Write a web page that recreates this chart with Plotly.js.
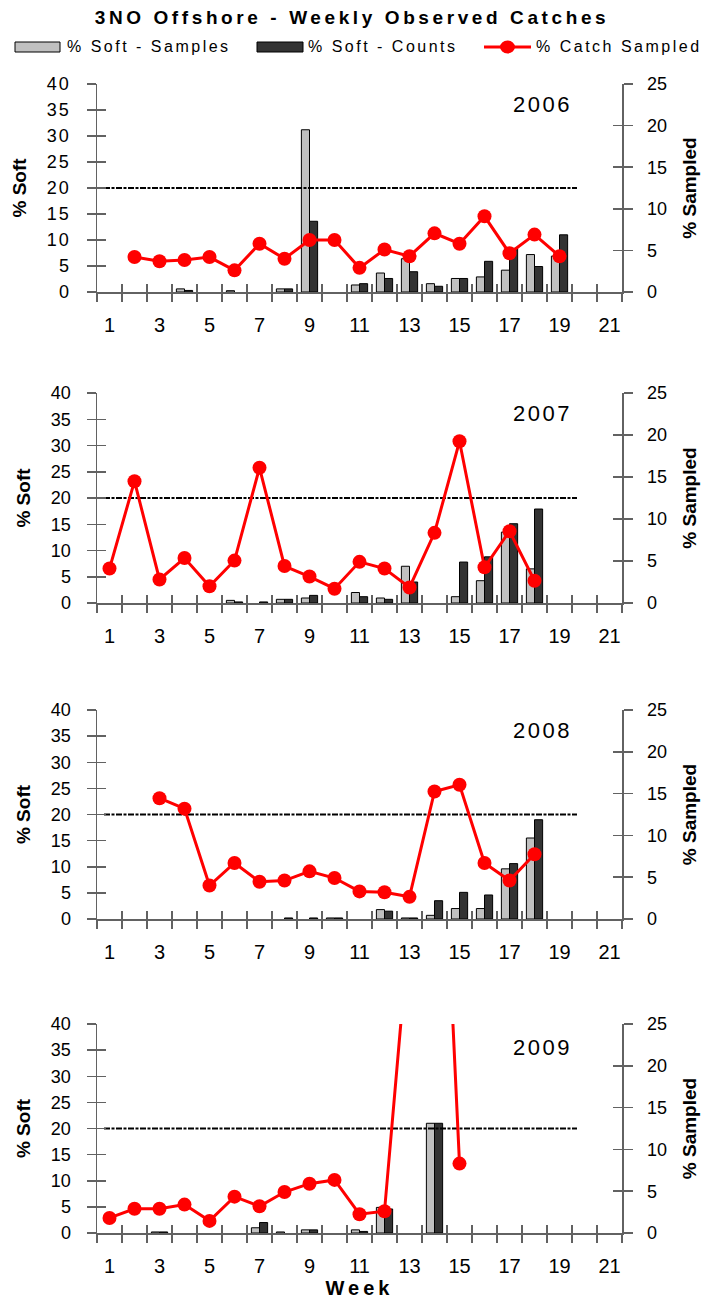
<!DOCTYPE html>
<html><head><meta charset="utf-8">
<script src="https://cdn.plot.ly/plotly-3.0.1.min.js"></script>
<style>
html,body{margin:0;padding:0;background:#fff;}
#chart{width:704px;height:1299px;}
.ytick text{letter-spacing:2px;}
.gtitle{letter-spacing:3.6px;}
.annotation-text{letter-spacing:2.5px;}
text.x4title{letter-spacing:4px;}
</style></head><body><div id="chart"></div>
<script>
const weeks = [1,2,3,4,5,6,7,8,9,10,11,12,13,14,15,16,17,18,19,20,21];
const weekTickLabels = [1,3,5,7,9,11,13,15,17,19,21];
const softTicks = [0,5,10,15,20,25,30,35,40];
const sampledTicks = [0,5,10,15,20,25];
const years = ['2006','2007','2008','2009'];
const seriesNames = ['% Soft - Samples', '% Soft - Counts', '% Catch Sampled'];
const thresholdLevel = 20;
const thresholdWeeks = [0.78, 19.7];

const samples2006 = [null,null,null,0.6,null,0.25,null,0.6,31.2,null,1.35,3.65,6.4,1.6,2.6,2.9,4.2,7.2,6.9,null,null];
const counts2006  = [null,null,null,0.3,null,null,null,0.6,13.6,null,1.6,2.6,3.9,1.1,2.6,5.9,8.4,4.9,11.0,null,null];
const sampled2006 = [null,4.2,3.7,3.85,4.2,2.6,5.8,4.0,6.25,6.25,2.9,5.1,4.3,7.05,5.8,9.1,4.65,6.9,4.3,null,null];

const samples2007 = [null,null,null,null,null,0.5,null,0.7,0.95,null,2.0,0.95,7.0,null,1.2,4.25,13.5,6.5,null,null,null];
const counts2007  = [null,null,null,null,null,0.2,0.2,0.7,1.45,null,1.2,0.7,4.0,null,7.8,8.8,15.1,17.9,null,null,null];
const sampled2007 = [4.1,14.5,2.8,5.35,2.0,5.05,16.1,4.4,3.15,1.7,4.9,4.1,1.85,8.35,19.25,4.25,8.55,2.65,null,null,null];

const samples2008 = [null,null,null,null,null,null,null,null,null,0.2,null,1.8,0.2,0.7,2.0,2.0,9.6,15.5,null,null,null];
const counts2008  = [null,null,null,null,null,null,null,0.2,0.2,0.2,null,1.5,0.2,3.5,5.1,4.6,10.6,19.0,null,null,null];
const sampled2008 = [null,null,14.45,13.2,4.0,6.7,4.45,4.6,5.7,4.9,3.3,3.2,2.65,15.25,16.05,6.7,4.6,7.75,null,null,null];

const samples2009 = [null,null,0.2,null,null,null,1.0,0.2,0.6,null,0.6,4.9,null,21.0,null,null,null,null,null,null,null];
const counts2009  = [null,null,0.2,null,null,null,2.0,null,0.6,null,0.3,4.6,null,21.0,null,null,null,null,null,null,null];
const sampled2009 = [1.8,2.9,2.9,3.4,1.45,4.35,3.2,4.9,5.9,6.35,2.25,2.6,37,72,8.3,null,null,null,null,null,null];

const samplesByYear = [samples2006, samples2007, samples2008, samples2009];
const countsByYear = [counts2006, counts2007, counts2008, counts2009];
const sampledByYear = [sampled2006, sampled2007, sampled2008, sampled2009];

const W = 704, H = 1299;
const AX = '#626262';
const FONT = 'Liberation Sans, Arial, sans-serif';
const GRAY = '#c0c0c0', DARK = '#333333', RED = '#ff0000';
const xDomain = [97/W, 622/W];
const panelPx = [[84,292],[393,603],[710,919],[1024,1233]];
const yearLabelPx = [105,413,730,1047];
const boundaries = weeks.map(w => w - 0.5).concat([weeks[weeks.length-1] + 0.5]);
const px = v => v / W;
const py = v => 1 - v / H;

const traces = [];
const layout = {
  width: W, height: H,
  margin: {l:0, r:0, t:0, b:0, pad:0},
  paper_bgcolor: '#fff', plot_bgcolor: 'rgba(0,0,0,0)',
  font: {family: FONT, color: '#000', size: 16},
  barmode: 'group', bargap: 0.35, bargroupgap: 0,
  showlegend: false,
  title: {text: '3NO Offshore - Weekly Observed Catches', x: 0.5, xanchor: 'center',
          y: 1 - 17/H, yanchor: 'middle', yref: 'container',
          font: {family: FONT, size: 19, weight: 700, color: '#000'}},
  annotations: [],
  shapes: []
};

// legend (keys + labels in the header row)
const legY = 47;
layout.shapes.push({type: 'rect', xref: 'paper', yref: 'paper', x0: px(15), x1: px(60), y0: py(52), y1: py(42),
  fillcolor: GRAY, line: {color: '#000', width: 1}});
layout.shapes.push({type: 'rect', xref: 'paper', yref: 'paper', x0: px(257), x1: px(303), y0: py(52), y1: py(42),
  fillcolor: DARK, line: {color: '#000', width: 1}});
layout.shapes.push({type: 'line', xref: 'paper', yref: 'paper', x0: px(484), x1: px(531), y0: py(legY), y1: py(legY),
  line: {color: RED, width: 3}});
layout.shapes.push({type: 'circle', xref: 'paper', yref: 'paper', x0: px(500), x1: px(515), y0: py(53.5), y1: py(40.5),
  fillcolor: RED, line: {color: RED, width: 0}});
[[65, 0], [306, 1], [534, 2]].forEach(([x, k]) => {
  layout.annotations.push({text: seriesNames[k], xref: 'paper', yref: 'paper', x: px(x), y: py(legY),
    xanchor: 'left', yanchor: 'middle', showarrow: false, font: {family: FONT, size: 16, color: '#000'}});
});

for (let i = 0; i < 4; i++) {
  const p = i + 1;
  const xr = p === 1 ? 'x' : 'x' + p;
  const yl = p === 1 ? 'y' : 'y' + p;
  const yrIdx = p + 4, xoIdx = p + 4, yloIdx = p + 8, yroIdx = p + 12;
  const dom = [1 - panelPx[i][1]/H, 1 - panelPx[i][0]/H];
  const xKey = p === 1 ? 'xaxis' : 'xaxis' + p;
  const yKey = p === 1 ? 'yaxis' : 'yaxis' + p;

  layout[xKey] = {
    domain: xDomain, range: [0.5, 21.5], autorange: false, anchor: yl,
    tickmode: 'array', tickvals: weekTickLabels, ticktext: weekTickLabels.map(String),
    ticks: '', showline: true, linecolor: AX, linewidth: 1.5,
    showgrid: false, zeroline: false,
    tickfont: {family: FONT, size: 20, color: '#000'}, ticklabelstandoff: 14,
    minor: {tickmode: 'array', tickvals: boundaries, ticks: 'outside', ticklen: 8,
            tickcolor: AX, tickwidth: 1.5, showgrid: false}
  };
  if (p === 4) {
    layout[xKey].title = {text: 'Week', font: {family: FONT, size: 20, weight: 700, color: '#000'}, standoff: 4};
  }
  layout['xaxis' + xoIdx] = {
    overlaying: xr, anchor: yl, range: [0.5, 21.5], autorange: false,
    tickmode: 'array', tickvals: boundaries, ticks: 'inside', ticklen: 8,
    tickcolor: AX, tickwidth: 1.5, showticklabels: false, showline: false,
    showgrid: false, zeroline: false
  };
  layout[yKey] = {
    domain: dom, range: [0, 40], autorange: false, anchor: xr,
    tickmode: 'array', tickvals: softTicks, ticks: 'outside', ticklen: 9,
    tickcolor: AX, tickwidth: 1.5, showline: true, linecolor: AX, linewidth: 1.5,
    showgrid: false, zeroline: false,
    tickfont: {family: FONT, size: 18, color: '#000'}, ticklabelstandoff: 12,
    title: {text: '% Soft', font: {family: FONT, size: 19, weight: 700, color: '#000'}, standoff: 15}
  };
  layout['yaxis' + yloIdx] = {
    overlaying: yl, anchor: xr, side: 'left', range: [0, 40], autorange: false,
    tickmode: 'array', tickvals: softTicks, ticks: 'inside', ticklen: 9,
    tickcolor: AX, tickwidth: 1.5, showticklabels: false, showline: false,
    showgrid: false, zeroline: false
  };
  layout['yaxis' + yrIdx] = {
    overlaying: yl, anchor: xr, side: 'right', range: [0, 25], autorange: false,
    tickmode: 'array', tickvals: sampledTicks, ticks: 'outside', ticklen: 9,
    tickcolor: AX, tickwidth: 1.5, showline: true, linecolor: AX, linewidth: 1.5,
    showgrid: false, zeroline: false,
    tickfont: {family: FONT, size: 18, color: '#000'}, ticklabelstandoff: 11,
    title: {text: '% Sampled', font: {family: FONT, size: 19, weight: 700, color: '#000'}, standoff: 16}
  };
  layout['yaxis' + yroIdx] = {
    overlaying: yl, anchor: xr, side: 'right', range: [0, 25], autorange: false,
    tickmode: 'array', tickvals: sampledTicks, ticks: 'inside', ticklen: 9,
    tickcolor: AX, tickwidth: 1.5, showticklabels: false, showline: false,
    showgrid: false, zeroline: false
  };

  traces.push({type: 'bar', name: seriesNames[0], x: weeks, y: samplesByYear[i],
    xaxis: xr, yaxis: yl, offsetgroup: 'a',
    marker: {color: GRAY, line: {color: '#000', width: 1}}, hoverinfo: 'skip'});
  traces.push({type: 'bar', name: seriesNames[1], x: weeks, y: countsByYear[i],
    xaxis: xr, yaxis: yl, offsetgroup: 'b',
    marker: {color: DARK, line: {color: '#000', width: 1}}, hoverinfo: 'skip'});
  traces.push({type: 'scatter', mode: 'lines', name: 'threshold', x: thresholdWeeks, y: thresholdWeeks.map(() => thresholdLevel),
    xaxis: xr, yaxis: yl, hoverinfo: 'skip',
    line: {color: '#000', width: 2, dash: '6px,1.5px,3px,1.5px'}});
  traces.push({type: 'scatter', mode: 'lines', x: [], y: [], xaxis: 'x' + xoIdx, yaxis: yl, hoverinfo: 'skip'});
  traces.push({type: 'scatter', mode: 'lines', x: [], y: [], xaxis: xr, yaxis: 'y' + yloIdx, hoverinfo: 'skip'});
  traces.push({type: 'scatter', mode: 'lines', x: [], y: [], xaxis: xr, yaxis: 'y' + yroIdx, hoverinfo: 'skip'});
  traces.push({type: 'scatter', mode: 'lines+markers', name: seriesNames[2], x: weeks, y: sampledByYear[i],
    xaxis: xr, yaxis: 'y' + yrIdx, connectgaps: false,
    line: {color: RED, width: 3}, marker: {color: RED, size: 14}, hoverinfo: 'skip'});

  layout.annotations.push({text: years[i], xref: 'paper', yref: 'paper',
    x: 542/W, y: 1 - yearLabelPx[i]/H, xanchor: 'center', yanchor: 'middle', showarrow: false,
    font: {family: FONT, size: 22, color: '#000'}});
}

Plotly.newPlot('chart', traces, layout, {staticPlot: true});
</script></body></html>
